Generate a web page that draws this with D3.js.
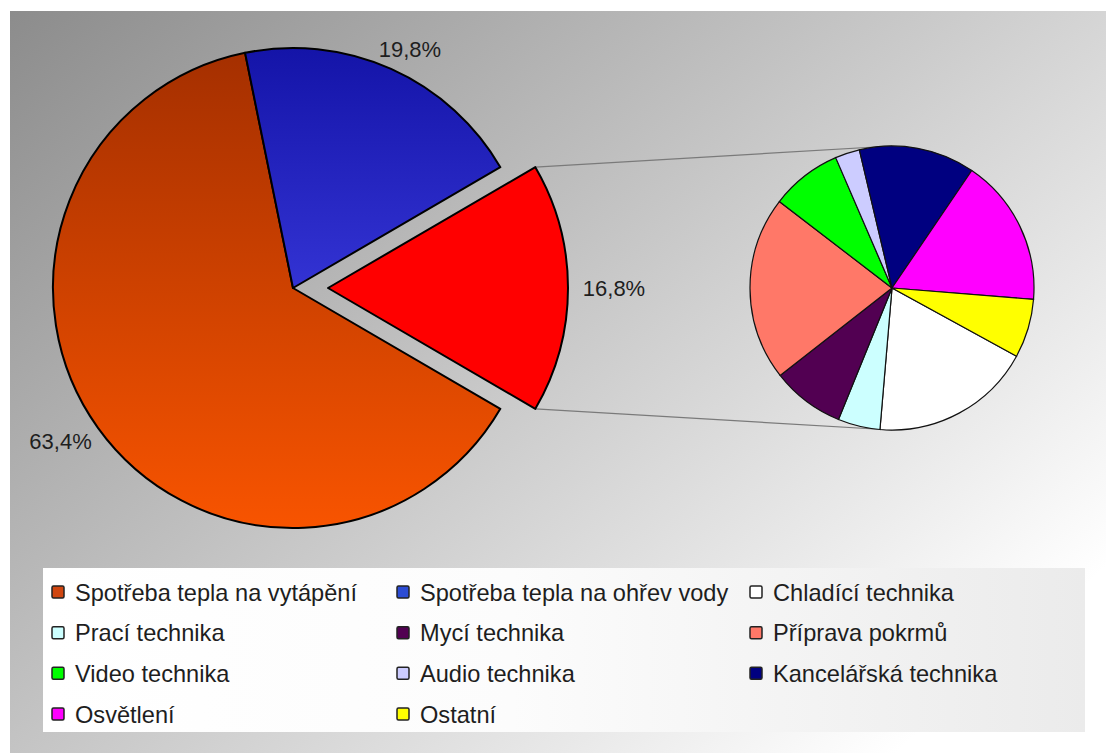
<!DOCTYPE html>
<html>
<head>
<meta charset="utf-8">
<script src="https://d3js.org/d3.v7.min.js"></script>
<style>
  body { margin: 0; background: #fff; }
  svg { display: block; font-family: "Liberation Sans", Arial, Helvetica, sans-serif; }
</style>
</head>
<body>
<svg class="chart" width="1106" height="753"></svg>
<script>
// main pie: heating, hot water, and the part split into the second pie
var mainNames  = ["Spotřeba tepla na vytápění", "Spotřeba tepla na ohřev vody", "Elektrické spotřebiče"];
var mainValues = [63.4, 19.8, 16.8];

// second pie: breakdown of the split slice
var subNames  = ["Chladící technika", "Prací technika", "Mycí technika", "Příprava pokrmů",
                 "Video technika", "Audio technika", "Kancelářská technika", "Osvětlení", "Ostatní"];
var subValues = [18.4, 4.8, 8.3, 21.0, 8.1, 2.8, 13.2, 16.8, 6.7];

// legend order
var legendNames = [mainNames[0], mainNames[1]].concat(subNames);

var colors = {
    "Spotřeba tepla na vytápění"  : "#d04610",
    "Spotřeba tepla na ohřev vody": "#2c4cd4",
    "Elektrické spotřebiče"       : "#ff0000",
    "Chladící technika"           : "#ffffff",
    "Prací technika"              : "#ccffff",
    "Mycí technika"               : "#520052",
    "Příprava pokrmů"             : "#ff7868",
    "Video technika"              : "#00ff00",
    "Audio technika"              : "#ccccff",
    "Kancelářská technika"        : "#000080",
    "Osvětlení"                   : "#ff00ff",
    "Ostatní"                     : "#ffff00"
};

var cz = d3.formatLocale({ decimal: ",", thousands: " ", grouping: [3], currency: ["", " Kč"] });
var fmtPct = function(v) { return cz.format(".1f")(v) + "%"; };

var rad = function(deg) { return deg * Math.PI / 180; };

var svg = d3.select(".chart");
var defs = svg.append("defs");

var addGradient = function(id, x1, y1, x2, y2, stops) {
    var g = defs.append("linearGradient")
        .attr("id", id)
        .attr("gradientUnits", "userSpaceOnUse")
        .attr("x1", x1).attr("y1", y1).attr("x2", x2).attr("y2", y2);
    stops.forEach(function(s) {
        g.append("stop").attr("offset", s[0]).attr("stop-color", s[1]);
    });
};

var cx = 293, cy = 288, R = 240, explode = 35;

addGradient("bg", 10, 11, 765, 868, [[0, "#8c8c8c"], [1, "#ffffff"]]);
// slice paths are drawn in coordinates local to the pie centre
addGradient("gOrange", 0, -R, 0, R, [[0, "#a42f00"], [1, "#f85400"]]);
addGradient("gBlue", 0, -R, 0, R, [[0, "#1414a8"], [1, "#5252ff"]]);
addGradient("gLegend", 43, 0, 1085, 0, [[0, "#ffffff"], [0.45, "#fcfcfc"], [1, "#ebebeb"]]);

svg.append("rect")
    .attr("x", 10).attr("y", 11)
    .attr("width", 1096).attr("height", 742)
    .attr("fill", "url(#bg)");

var mainFill = ["url(#gOrange)", "url(#gBlue)", colors[mainNames[2]]];

// ---- main pie ----
var splitShare = mainValues[2] / d3.sum(mainValues);

var mainPie = d3.pie().sort(null)
    .startAngle(Math.PI / 2 + Math.PI * splitShare)
    .endAngle(Math.PI / 2 + Math.PI * splitShare + 2 * Math.PI);
var mainArcs = mainPie(mainValues);
var mainArc = d3.arc().innerRadius(0).outerRadius(R);

var offsetOf = function(d, i) {
    if (i !== 2) return [0, 0];
    var a = (d.startAngle + d.endAngle) / 2;
    return [explode * Math.sin(a), -explode * Math.cos(a)];
};

// ---- second pie ----
var sx = 892, sy = 288, r = 142;
var subPie = d3.pie().sort(null)
    .startAngle(rad(118.7))
    .endAngle(rad(118.7) + 2 * Math.PI);
var subArcs = subPie(subValues);
var subArc = d3.arc().innerRadius(0).outerRadius(r);

// connector lines from the split slice corners to the second pie
var split = mainArcs[2];
var so = offsetOf(split, 2);
var corner = function(a) {
    return [cx + so[0] + R * Math.sin(a), cy + so[1] - R * Math.cos(a)];
};
var connectors = [
    [corner(split.startAngle), [sx, sy - r]],
    [corner(split.endAngle), [sx, sy + r]]
];
svg.append("g").selectAll("line")
    .data(connectors)
  .enter()
    .append("line")
    .attr("x1", function(d) { return d[0][0]; })
    .attr("y1", function(d) { return d[0][1]; })
    .attr("x2", function(d) { return d[1][0]; })
    .attr("y2", function(d) { return d[1][1]; })
    .attr("stroke", "#7a7a7a")
    .attr("stroke-width", 1.2);

svg.append("g").selectAll("path")
    .data(mainArcs)
  .enter()
    .append("path")
    .attr("transform", function(d, i) {
        var o = offsetOf(d, i);
        return "translate(" + (cx + o[0]) + "," + (cy + o[1]) + ")";
    })
    .attr("d", mainArc)
    .attr("fill", function(d, i) { return mainFill[i]; })
    .attr("stroke", "#000")
    .attr("stroke-width", 2)
    .attr("stroke-linejoin", "round");

// percent labels, placed just outside each slice
var labelR = 254, halfW = 32, halfH = 8;
svg.append("g").selectAll("text")
    .data(mainArcs)
  .enter()
    .append("text")
    .attr("x", function(d, i) {
        var a = (d.startAngle + d.endAngle) / 2;
        return cx + offsetOf(d, i)[0] + labelR * Math.sin(a) + halfW * Math.sin(a);
    })
    .attr("y", function(d, i) {
        var a = (d.startAngle + d.endAngle) / 2;
        return cy + offsetOf(d, i)[1] - labelR * Math.cos(a) - halfH * Math.cos(a);
    })
    .attr("dy", "0.36em")
    .attr("text-anchor", "middle")
    .attr("font-size", 22)
    .attr("fill", "#1e1e1e")
    .text(function(d) { return fmtPct(d.data); });

svg.append("g")
    .attr("transform", "translate(" + sx + "," + sy + ")")
  .selectAll("path")
    .data(subArcs)
  .enter()
    .append("path")
    .attr("d", subArc)
    .attr("fill", function(d, i) { return colors[subNames[i]]; })
    .attr("stroke", "#111")
    .attr("stroke-width", 1.2);

// ---- legend ----
var box = { x: 43, y: 568, w: 1042, h: 164 };
svg.append("rect")
    .attr("x", box.x).attr("y", box.y)
    .attr("width", box.w).attr("height", box.h)
    .attr("fill", "url(#gLegend)");

var colX = d3.scaleOrdinal().domain([0, 1, 2]).range([52, 397, 750]);
var rowY = d3.scaleLinear().domain([0, 3]).range([592, 714]);
var sw = 12;

var items = svg.append("g").selectAll("g")
    .data(legendNames)
  .enter()
    .append("g")
    .attr("transform", function(d, i) {
        return "translate(" + colX(i % 3) + "," + rowY(Math.floor(i / 3)) + ")";
    });

items.append("rect")
    .attr("x", 0).attr("y", -sw / 2)
    .attr("width", sw).attr("height", sw)
    .attr("rx", 1.5)
    .attr("fill", function(d) { return colors[d]; })
    .attr("stroke", "#222")
    .attr("stroke-width", 1.5);

items.append("text")
    .attr("x", 23)
    .attr("dy", "0.36em")
    .attr("font-size", 23.6)
    .attr("fill", "#1e1e1e")
    .text(function(d) { return d; });
</script>
</body>
</html>
